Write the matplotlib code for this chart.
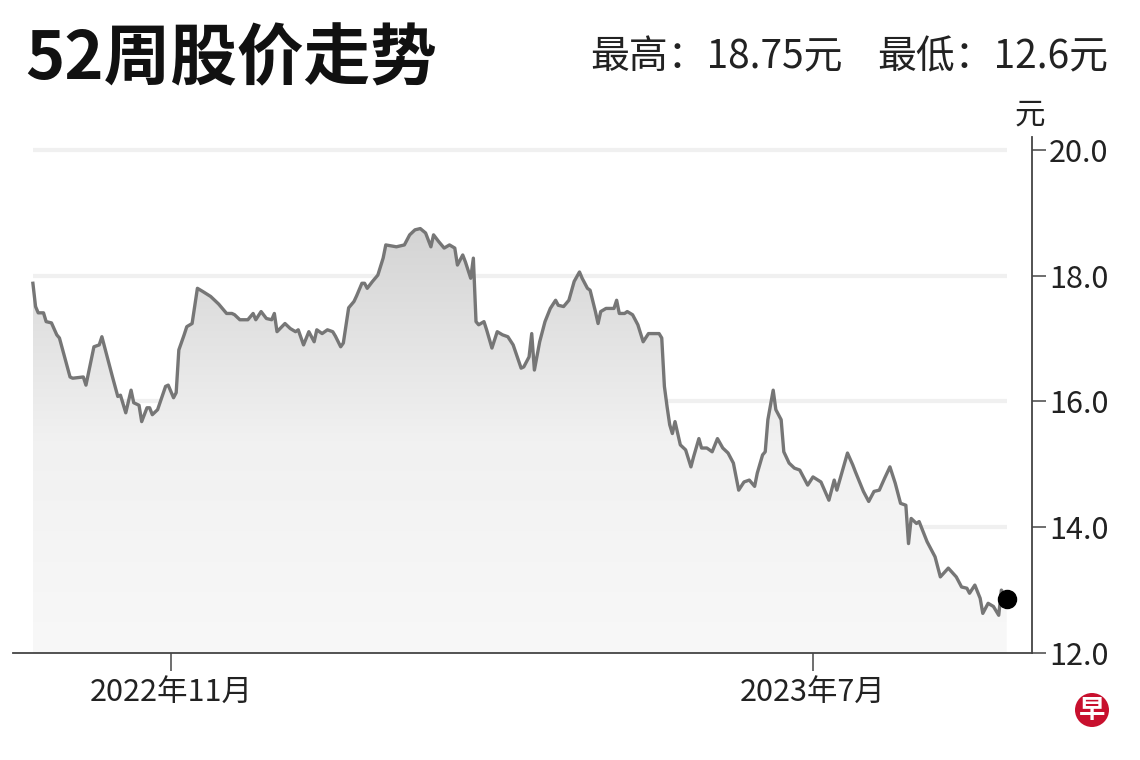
import numpy as np
import pandas as pd
import matplotlib
matplotlib.use("Agg")
import matplotlib.pyplot as plt
import matplotlib.dates as mdates
from matplotlib.patches import Polygon, Circle
from matplotlib.colors import LinearSegmentedColormap

plt.rcParams['font.family'] = ['Noto Sans CJK SC', 'DejaVu Sans']

# 数据
start_date = "2022-09-10"
day_offsets = [
    0, 1, 2, 4, 5, 7, 9, 10, 14, 15,
    19, 20, 23, 25, 26, 27, 30, 32, 33, 35,
    37, 38, 40, 41, 43, 44, 45, 47, 50, 51,
    53, 54, 55, 57, 58, 60, 62, 64, 67, 70,
    73, 75, 76, 78, 81, 83, 84, 86, 88, 90,
    91, 92, 95, 97, 99, 100, 102, 104, 106, 107,
    109, 111, 113, 114, 116, 117, 119, 121, 122, 124,
    125, 126, 128, 130, 132, 133, 137, 140, 142, 144,
    146, 148, 150, 151, 153, 155, 157, 159, 160, 162,
    163, 165, 166, 167, 168, 170, 171, 173, 175, 177,
    179, 181, 184, 185, 187, 188, 189, 191, 193, 195,
    197, 198, 200, 202, 204, 206, 207, 209, 210, 212,
    213, 214, 216, 219, 220, 221, 223, 224, 226, 228,
    230, 232, 236, 237, 238, 239, 240, 241, 242, 244,
    246, 248, 249, 251, 252, 254, 256, 258, 260, 262,
    264, 266, 268, 270, 272, 273, 275, 276, 277, 279,
    280, 282, 283, 285, 287, 289, 290, 292, 294, 297,
    300, 302, 303, 307, 309, 310, 313, 315, 317, 319,
    321, 323, 325, 327, 329, 330, 331, 333, 334, 337,
    340, 342, 345, 348, 350, 352, 353, 355, 357, 358,
    360, 362, 364, 365, 367,
]
prices = [
    17.88, 17.51, 17.41, 17.41, 17.27, 17.25, 17.06, 17.01, 16.39, 16.37,
    16.39, 16.26, 16.87, 16.90, 17.03, 16.87, 16.39, 16.08, 16.10, 15.82,
    16.18, 15.98, 15.94, 15.68, 15.90, 15.90, 15.79, 15.87, 16.24, 16.26,
    16.06, 16.14, 16.82, 17.06, 17.19, 17.24, 17.80, 17.75, 17.67, 17.55,
    17.40, 17.40, 17.38, 17.30, 17.30, 17.40, 17.30, 17.43, 17.32, 17.30,
    17.40, 17.11, 17.24, 17.16, 17.11, 17.14, 16.90, 17.11, 16.95, 17.14,
    17.08, 17.14, 17.11, 17.04, 16.87, 16.93, 17.49, 17.59, 17.68, 17.88,
    17.88, 17.80, 17.91, 18.01, 18.28, 18.49, 18.46, 18.49, 18.65, 18.73,
    18.75, 18.68, 18.46, 18.65, 18.54, 18.44, 18.49, 18.44, 18.17, 18.33,
    18.22, 17.96, 18.28, 17.27, 17.22, 17.27, 17.14, 16.85, 17.11, 17.06,
    17.03, 16.90, 16.53, 16.55, 16.71, 17.08, 16.50, 16.95, 17.27, 17.48,
    17.61, 17.53, 17.51, 17.61, 17.91, 18.06, 17.96, 17.80, 17.77, 17.43,
    17.24, 17.43, 17.48, 17.48, 17.61, 17.40, 17.40, 17.43, 17.38, 17.22,
    16.95, 17.08, 17.08, 17.01, 16.24, 15.92, 15.63, 15.49, 15.68, 15.31,
    15.23, 14.96, 15.12, 15.41, 15.26, 15.26, 15.20, 15.41, 15.26, 15.18,
    15.02, 14.59, 14.72, 14.75, 14.65, 14.86, 15.15, 15.20, 15.71, 16.18,
    15.87, 15.71, 15.20, 15.02, 14.94, 14.91, 14.83, 14.67, 14.80, 14.72,
    14.43, 14.75, 14.59, 15.18, 14.99, 14.88, 14.57, 14.41, 14.57, 14.59,
    14.78, 14.96, 14.70, 14.38, 14.35, 13.74, 14.14, 14.06, 14.09, 13.77,
    13.53, 13.21, 13.35, 13.21, 13.05, 13.03, 12.95, 13.08, 12.87, 12.63,
    12.79, 12.74, 12.60, 13.00, 12.86,
]
high_price = 18.75
low_price = 12.6
y_ticks = [12.0, 14.0, 16.0, 18.0, 20.0]
x_tick_dates = ["2022-11-01", "2023-07-01"]
x_tick_labels = ["2022年11月", "2023年7月"]

dates = pd.Timestamp(start_date) + pd.to_timedelta(day_offsets, unit="D")
x = mdates.date2num(dates)
y = np.array(prices)

fig = plt.figure(figsize=(11.4, 7.6), dpi=100)
ax = fig.add_axes([0.0114, 0.1408, 0.894, 0.6784])

# 网格线（只到数据末端）
for t in y_ticks[1:]:
    ax.plot([x[0], x[-1]], [t, t], color='#f0f0f0', lw=3, zorder=0,
            solid_capstyle='butt')

# 渐变填充
grad = np.linspace(0, 1, 256).reshape(-1, 1)
cmap = LinearSegmentedColormap.from_list('fade', ['#f8f8f8', '#f1f1f1', '#d4d4d4'])
im = ax.imshow(grad, extent=[x[0], x[-1], 12, y.max()], origin='lower',
               aspect='auto', cmap=cmap, zorder=1)
poly = Polygon(np.column_stack([np.r_[x[0], x, x[-1]], np.r_[12, y, 12]]),
               closed=True, facecolor='none', edgecolor='none')
ax.add_patch(poly)
im.set_clip_path(poly)

ax.plot(x, y, color='#767676', lw=2.4, zorder=3)
ax.plot(x[-1], y[-1], 'o', color='black', ms=13, zorder=4)

ax.set_xlim(x[0] - 7.5, x[0] + 376.6)
ax.set_ylim(12, 20.2)

for s in ['left', 'top']:
    ax.spines[s].set_visible(False)
for s in ['right', 'bottom']:
    ax.spines[s].set_color('#444444')
    ax.spines[s].set_linewidth(1.3)

ax.yaxis.tick_right()
ax.set_yticks(y_ticks)
ax.set_yticklabels([f'{t:.1f}' for t in y_ticks])
ax.tick_params(axis='y', length=10, width=1.2, color='#555555',
               labelsize=22, pad=2, labelcolor='#222222')
ax.set_xticks(mdates.date2num(pd.to_datetime(x_tick_dates)))
ax.set_xticklabels(x_tick_labels)
ax.tick_params(axis='x', length=13, width=1.2, color='#555555',
               labelsize=22, pad=4, labelcolor='#222222')

fig.text(1030 / 1140, 1 - 115 / 760, '元', ha='center', va='center',
         fontsize=22, color='#222222')

fig.text(25 / 1140, 1 - 60 / 760, '52周股价走势', ha='left', va='center',
         fontsize=48, fontweight='heavy', color='#111111')
fig.text(590 / 1140, 1 - 57 / 760, f'最高：{high_price}元', ha='left',
         va='center', fontsize=28, color='#222222')
fig.text(1108 / 1140, 1 - 57 / 760, f'最低：{low_price}元', ha='right',
         va='center', fontsize=28, color='#222222')

# 标志
fig.add_artist(Circle((10.92, 0.50), 0.17, transform=fig.dpi_scale_trans,
                      facecolor='#c8102e', edgecolor='none'))
fig.text(1092 / 1140, 50 / 760, '早', ha='center', va='center',
         fontsize=19, fontweight='bold', color='white')

fig.savefig('out.png', dpi=100)
